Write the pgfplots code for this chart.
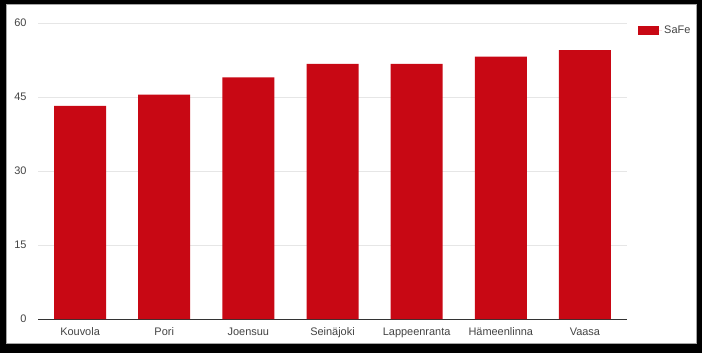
\documentclass[border=0pt]{standalone}
\usepackage{fontspec}
\setmainfont{Liberation Sans}
\usepackage{pgfplots}
\pgfplotsset{compat=1.18}
\definecolor{barred}{RGB}{200,8,20}
\definecolor{gridgray}{RGB}{230,230,230}
\definecolor{labelgray}{RGB}{68,68,68}
\definecolor{basegray}{RGB}{51,51,51}
\begin{document}
\begin{tikzpicture}[x=1bp,y=1bp]
\fill[black] (0,0) rectangle (702,353);
\fill[white] (6,10) rectangle (696,349);
\draw[black!35, line width=0.8bp] (6,10) rectangle (696,349);
\begin{axis}[
  at={(38bp,34bp)}, anchor=south west,
  scale only axis, width=589bp, height=296bp,
  xmin=-0.5, xmax=6.5, ymin=0, ymax=60,
  ybar, bar width=52bp,
  xtick={0,...,6},
  xticklabels={Kouvola,Pori,Joensuu,Seinäjoki,Lappeenranta,Hämeenlinna,Vaasa},
  ytick={15,30,45,60},
  extra y ticks={0}, extra y tick labels={0},
  extra y tick style={grid style={draw=basegray, line width=0.9bp}},
  ymajorgrids, grid style={draw=gridgray, line width=0.8bp},
  axis line style={draw=none},
  major tick length=0pt,
  /pgf/number format/assume math mode=true,
  tick label style={font=\fontsize{11}{13}\selectfont, text=labelgray},
  yticklabel style={anchor=east, xshift=-8bp},
  xticklabel style={anchor=north, yshift=-5bp},
  legend style={at={(1.0187,0.975)}, anchor=west, draw=none, fill=none,
    font=\fontsize{11}{13}\selectfont, text=labelgray, inner sep=0pt},
  legend image code/.code={\fill[#1] (0bp,-4.5bp) rectangle (21bp,4.5bp); \path (0bp,0bp) -- (24bp,0bp);},
]
\addplot[fill=barred, draw=none] coordinates {(0,43.2)(1,45.5)(2,49.0)(3,51.7)(4,51.7)(5,53.2)(6,54.5)};
\addlegendentry{SaFe}
\end{axis}
\end{tikzpicture}
\end{document}
